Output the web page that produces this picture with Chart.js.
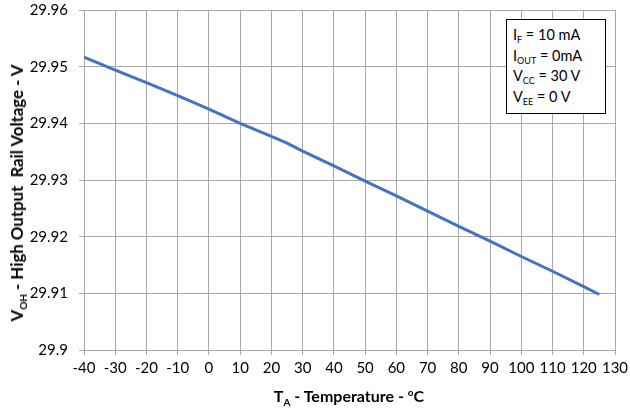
<!DOCTYPE html>
<html><head><meta charset="utf-8">
<script src="https://cdn.jsdelivr.net/npm/chart.js@4/dist/chart.umd.min.js"></script>
<style>
html,body{margin:0;padding:0;background:#fff;}
#wrap{position:relative;width:630px;height:412px;font-family:Lato,"Liberation Sans",sans-serif;}
canvas{position:absolute;left:0;top:0;}
.ytitle{position:absolute;left:17px;top:193px;transform:translate(-50%,-50%) rotate(-90deg);white-space:nowrap;font-weight:bold;font-size:16.8px;line-height:18px;color:#000;}
.xtitle{position:absolute;left:349px;top:396px;transform:translate(-50%,-50%);white-space:nowrap;font-weight:bold;font-size:16px;line-height:18px;color:#000;}
sub{font-size:10px;vertical-align:-4px;line-height:0;}
sup{font-size:10px;vertical-align:6px;line-height:0;}
.box{position:absolute;left:506px;top:19px;width:100px;height:95px;border:1px solid #000;background:#fff;box-sizing:border-box;padding:5px 0 0 6px;font-size:14.5px;line-height:20.7px;color:#000;}
.box sub{font-size:9px;vertical-align:-3px;}
</style></head>
<body>
<div id="wrap">
<canvas id="c" width="630" height="412"></canvas>
<div class="ytitle">V<sub>OH</sub> - High Output&nbsp; Rail Voltage - V</div>
<div class="xtitle">T<sub>A</sub> - Temperature - <sup>o</sup>C</div>
<div class="box">I<sub>F</sub> = 10 mA<br>I<sub>OUT</sub> = 0mA<br>V<sub>CC</sub> = 30 V<br>V<sub>EE</sub> = 0 V</div>
</div>
<script>
const temperatures = [-40, -30, -20, -10, 0, 10, 20, 25, 30, 40, 50, 60, 70, 80, 90, 100, 110, 120, 125];
const vohValues = [29.9517, 29.9494, 29.9472, 29.9449, 29.9425, 29.9400, 29.9377, 29.9365, 29.9351, 29.9325, 29.9298, 29.9272, 29.9245, 29.9218, 29.9192, 29.9165, 29.9139, 29.9112, 29.9098];
const xTicks = [-40, -30, -20, -10, 0, 10, 20, 30, 40, 50, 60, 70, 80, 90, 100, 110, 120, 130];
const yTicks = [29.9, 29.91, 29.92, 29.93, 29.94, 29.95, 29.96];

const gridColor = '#a9a9a9';
const font = {family: 'Lato, "Liberation Sans", sans-serif', size: 15};
new Chart(document.getElementById('c'), {
  type: 'line',
  data: {
    datasets: [{
      data: temperatures.map((t, i) => ({x: t, y: vohValues[i]})),
      borderColor: '#4472C4',
      borderWidth: 3,
      pointRadius: 0,
      tension: 0,
      fill: false
    }]
  },
  options: {
    responsive: false,
    animation: false,
    devicePixelRatio: 1,
    layout: {padding: {left: 0, right: 15, top: 10, bottom: 0}},
    plugins: {legend: {display: false}, tooltip: {enabled: false}},
    scales: {
      x: {
        type: 'linear', min: xTicks[0], max: xTicks[xTicks.length - 1],
        afterBuildTicks: s => { s.ticks = xTicks.map(v => ({value: v})); },
        afterFit: s => { s.height = 62; s.paddingLeft = 0; s.paddingRight = 0; },
        ticks: {color: '#000', font, padding: 4, maxRotation: 0, autoSkip: false, callback: v => String(v)},
        grid: {color: gridColor, lineWidth: 1, tickLength: 5, tickColor: gridColor},
        border: {color: gridColor}
      },
      y: {
        type: 'linear', min: yTicks[0], max: yTicks[yTicks.length - 1],
        afterBuildTicks: s => { s.ticks = yTicks.map(v => ({value: v})); },
        afterFit: s => { s.width = 84; s.paddingTop = 0; s.paddingBottom = 0; },
        ticks: {color: '#000', font, padding: 11, callback: v => String(Number(v.toFixed(2)))},
        grid: {color: gridColor, lineWidth: 1, tickLength: 5, tickColor: gridColor},
        border: {color: gridColor}
      }
    }
  }
});
</script>
</body></html>
